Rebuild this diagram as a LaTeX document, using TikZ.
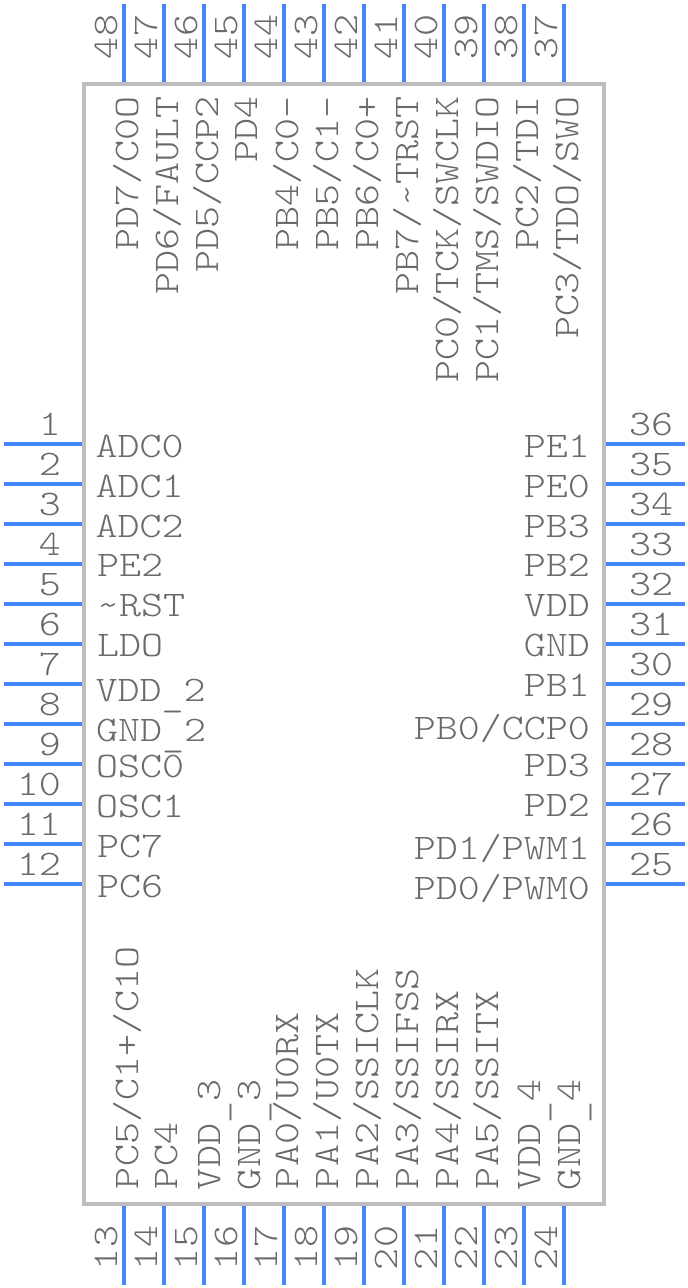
\documentclass[tikz,border=0pt]{standalone}
\usepackage{fontspec}
\setmainfont[FakeStretch=1.165]{Latin Modern Mono Light}
\newcommand{\lowbar}{\raisebox{-5pt}{\textunderscore}}
\definecolor{pinblue}{HTML}{4287F5}
\definecolor{bodygrey}{HTML}{BDBDBD}
\definecolor{textgrey}{HTML}{6A6A6A}
\tikzset{
  pinline/.style={draw=pinblue,line width=4pt},
  bodybox/.style={draw=bodygrey,line width=4pt},
  lbl/.style={inner sep=0pt,outer sep=0pt,text=textgrey,font=\fontsize{36}{36}\selectfont},
  lw/.style={lbl,anchor=base west},
  le/.style={lbl,anchor=base east},
  uw/.style={lbl,anchor=base west,rotate=90},
  ue/.style={lbl,anchor=base east,rotate=90}
}
\begin{document}
\begin{tikzpicture}[x=1pt,y=-1pt]
\useasboundingbox (0,0) rectangle (688,1288);
\fill[white] (0,0) rectangle (688,1288);
\draw[bodybox] (84,84) rectangle (604,1204);
% left pins 1-12
\foreach \n [count=\i from 0] in {1,2,3,4,5,6,7,8,9,10,11,12}{
  \pgfmathsetmacro\yy{444+40*\i}
  \coordinate (La\n) at (4,\yy); \coordinate (Lb\n) at (82,\yy);
  \draw[pinline] (La\n) -- (Lb\n);
  \node[le] (Ln\n) at (61,\yy-9) {\n};
}
% right pins 36-25
\foreach \n [count=\i from 0] in {36,35,34,33,32,31,30,29,28,27,26,25}{
  \pgfmathsetmacro\yy{444+40*\i}
  \coordinate (Ra\n) at (685,\yy); \coordinate (Rb\n) at (606,\yy);
  \draw[pinline] (Ra\n) -- (Rb\n);
  \node[lw] (Rn\n) at (629,\yy-9) {\n};
}
% top pins 48-37
\foreach \n [count=\i from 0] in {48,47,46,45,44,43,42,41,40,39,38,37}{
  \pgfmathsetmacro\xx{124+40*\i}
  \coordinate (Ta\n) at (\xx,4); \coordinate (Tb\n) at (\xx,82);
  \draw[pinline] (Ta\n) -- (Tb\n);
  \node[uw] (Tn\n) at (\xx-7,59) {\n};
}
% bottom pins 13-24
\foreach \n [count=\i from 0] in {13,14,15,16,17,18,19,20,21,22,23,24}{
  \pgfmathsetmacro\xx{124+40*\i}
  \coordinate (Ba\n) at (\xx,1285); \coordinate (Bb\n) at (\xx,1206);
  \draw[pinline] (Ba\n) -- (Bb\n);
  \node[uw] (Bn\n) at (\xx-7,1270) {\n};
}
% left labels
\node[lw] (l1) at (95.5,457) {ADC0};
\node[lw] (l2) at (95.5,497) {ADC1};
\node[lw] (l3) at (95.5,537) {ADC2};
\node[lw] (l4) at (97,576) {PE2};
\node[lw] (l5) at (97,616) {\textasciitilde RST};
\node[lw] (l6) at (97,656) {LDO};
\node[lw] (l7) at (95.5,701) {VDD\lowbar 2};
\node[lw] (l8) at (96,741) {GND\lowbar 2};
\node[lw] (l9) at (96,777) {OSC0};
\node[lw] (l10) at (96,817) {OSC1};
\node[lw] (l11) at (97,857) {PC7};
\node[lw] (l12) at (97,897) {PC6};
% right labels
\node[le] (r36) at (590,457) {PE1};
\node[le] (r35) at (590,497) {PE0};
\node[le] (r34) at (590,537) {PB3};
\node[le] (r33) at (590,576) {PB2};
\node[le] (r32) at (590,616) {VDD};
\node[le] (r31) at (590,656) {GND};
\node[le] (r30) at (590,696) {PB1};
\node[le] (r29) at (590,739) {PB0/CCP0};
\node[le] (r28) at (590,776) {PD3};
\node[le] (r27) at (590,816) {PD2};
\node[le] (r26) at (590,859) {PD1/PWM1};
\node[le] (r25) at (590,899) {PD0/PWM0};
% top labels
\node[ue] (t48) at (138,96) {PD7/C0O};
\node[ue] (t47) at (178,96) {PD6/FAULT};
\node[ue] (t46) at (218,96) {PD5/CCP2};
\node[ue] (t45) at (257,96) {PD4};
\node[ue] (t44) at (298,96) {PB4/C0-};
\node[ue] (t43) at (338,96) {PB5/C1-};
\node[ue] (t42) at (378,96) {PB6/C0+};
\node[ue] (t41) at (418,96) {PB7/\textasciitilde TRST};
\node[ue] (t40) at (458,96) {PC0/TCK/SWCLK};
\node[ue] (t39) at (498,96) {PC1/TMS/SWDIO};
\node[ue] (t38) at (538,96) {PC2/TDI};
\node[ue] (t37) at (578,96) {PC3/TDO/SWO};
% bottom labels
\node[uw] (b13) at (138,1189) {PC5/C1+/C1O};
\node[uw] (b14) at (177,1189) {PC4};
\node[uw] (b15) at (220,1190) {VDD\lowbar 3};
\node[uw] (b16) at (260,1190) {GND\lowbar 3};
\node[uw] (b17) at (298,1189) {PA0/U0RX};
\node[uw] (b18) at (338,1189) {PA1/U0TX};
\node[uw] (b19) at (378,1189) {PA2/SSICLK};
\node[uw] (b20) at (418,1189) {PA3/SSIFSS};
\node[uw] (b21) at (458,1189) {PA4/SSIRX};
\node[uw] (b22) at (498,1189) {PA5/SSITX};
\node[uw] (b23) at (540,1190) {VDD\lowbar 4};
\node[uw] (b24) at (580,1190) {GND\lowbar 4};
\end{tikzpicture}
\end{document}
